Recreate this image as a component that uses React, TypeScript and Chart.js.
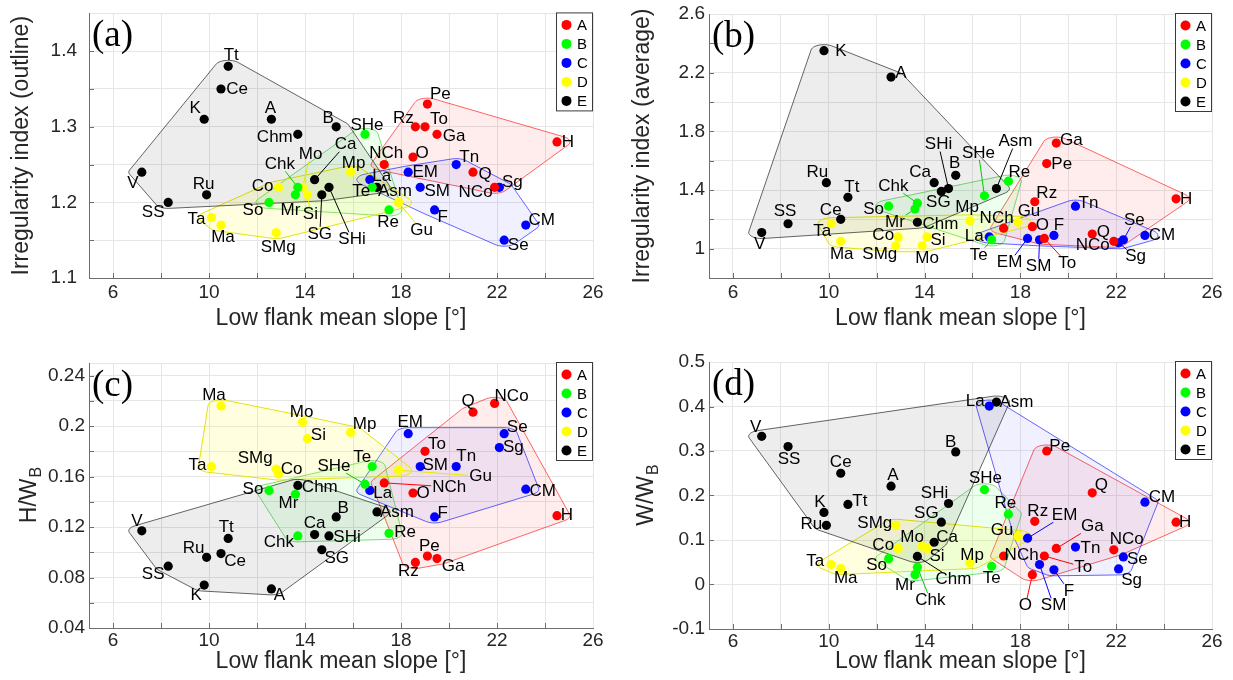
import React, { useEffect, useRef } from 'react';
import { Chart, registerables } from 'chart.js';

Chart.register(...registerables);

const FONT = '"Liberation Sans", Arial, Helvetica, sans-serif';
const SERIF = '"Liberation Serif", "Times New Roman", serif';
const TEXT = '#262626';
const AXIS = '#6e6e6e';
const GRID = '#e6e6e6';

// ---------------- data ----------------
const volcano = ['Pe', 'Rz', 'To', 'Ga', 'H', 'O', 'NCh', 'Q', 'NCo',
  'SHe', 'Chk', 'So', 'Mr', 'Te', 'Re',
  'La', 'EM', 'SM', 'Tn', 'Sg', 'F', 'CM', 'Se',
  'Co', 'Mo', 'Mp', 'Si', 'Ta', 'Ma', 'SMg', 'Gu',
  'Tt', 'Ce', 'K', 'A', 'Chm', 'B', 'V', 'Ru', 'SS', 'Ca', 'SG', 'SHi', 'Asm'];
const group = ['A', 'A', 'A', 'A', 'A', 'A', 'A', 'A', 'A',
  'B', 'B', 'B', 'B', 'B', 'B',
  'C', 'C', 'C', 'C', 'C', 'C', 'C', 'C',
  'D', 'D', 'D', 'D', 'D', 'D', 'D', 'D',
  'E', 'E', 'E', 'E', 'E', 'E', 'E', 'E', 'E', 'E', 'E', 'E', 'E'];
const slope = [19.1, 18.6, 19.0, 19.5, 24.5, 18.5, 17.3, 21.0, 21.9,
  16.5, 13.7, 12.5, 13.6, 16.8, 17.5,
  16.7, 18.3, 18.8, 20.3, 22.1, 19.4, 23.2, 22.3,
  12.9, 13.9, 15.9, 14.1, 10.1, 10.5, 12.8, 17.9,
  10.8, 10.5, 9.8, 12.6, 13.7, 15.3, 7.2, 9.9, 8.3, 14.4, 14.7, 15.0, 17.0];
const irregOutline = [1.33, 1.30, 1.30, 1.29, 1.28, 1.26, 1.25, 1.24, 1.22,
  1.29, 1.22, 1.20, 1.21, 1.22, 1.19,
  1.23, 1.24, 1.22, 1.25, 1.22, 1.19, 1.17, 1.15,
  1.22, 1.22, 1.24, 1.21, 1.18, 1.17, 1.16, 1.20,
  1.38, 1.35, 1.31, 1.31, 1.29, 1.30, 1.24, 1.21, 1.20, 1.23, 1.21, 1.22, 1.22];
const irregAverage = [1.58, 1.32, 1.07, 1.72, 1.34, 1.15, 1.14, 1.10, 1.05,
  1.36, 1.31, 1.29, 1.27, 1.06, 1.46,
  1.08, 1.07, 1.06, 1.29, 1.04, 1.09, 1.09, 1.06,
  1.08, 1.02, 1.19, 1.08, 1.17, 1.05, 1.02, 1.18,
  1.35, 1.20, 2.35, 2.17, 1.18, 1.50, 1.11, 1.45, 1.17, 1.45, 1.39, 1.41, 1.41];
const heightRatio = [0.097, 0.092, 0.180, 0.095, 0.129, 0.147, 0.155, 0.211, 0.218,
  0.154, 0.113, 0.149, 0.146, 0.168, 0.115,
  0.149, 0.194, 0.168, 0.168, 0.183, 0.128, 0.150, 0.194,
  0.162, 0.203, 0.195, 0.190, 0.168, 0.216, 0.166, 0.165,
  0.111, 0.099, 0.074, 0.071, 0.153, 0.128, 0.117, 0.096, 0.089, 0.114, 0.102, 0.113, 0.132];
const widthRatio = [0.300, 0.142, 0.064, 0.081, 0.140, 0.022, 0.064, 0.206, 0.078,
  0.213, 0.039, 0.058, 0.022, 0.041, 0.158,
  0.401, 0.104, 0.045, 0.084, 0.035, 0.033, 0.185, 0.062,
  0.081, 0.086, 0.049, 0.081, 0.045, 0.036, 0.133, 0.108,
  0.180, 0.250, 0.162, 0.221, 0.063, 0.298, 0.333, 0.133, 0.310, 0.095, 0.140, 0.182, 0.410];

const groupNames = ['A', 'B', 'C', 'D', 'E'];
const groupColors = ['#ff0000', '#00ff00', '#0000ff', '#ffff00', '#000000'];
const hullFill = ['rgba(255,0,0,0.07)', 'rgba(0,255,0,0.07)', 'rgba(0,0,255,0.06)', 'rgba(255,255,0,0.12)', 'rgba(0,0,0,0.07)'];
const hullStroke = ['rgba(255,0,0,0.6)', 'rgba(0,190,0,0.5)', 'rgba(0,0,255,0.6)', 'rgba(225,225,0,0.95)', 'rgba(0,0,0,0.6)'];
const leaderColor = ['#ff0000', '#00c800', '#0000ff', '#e8e800', '#000000'];

// axis ticks
const slopeGrid = [6, 8, 10, 12, 14, 16, 18, 20, 22, 24, 26];
const slopeLabels = [6, 10, 14, 18, 22, 26];
const outlineGrid = [1.1, 1.15, 1.2, 1.25, 1.3, 1.35, 1.4, 1.45];
const outlineLabels = [1.1, 1.2, 1.3, 1.4];
const averageGrid = [0.8, 1.0, 1.2, 1.4, 1.6, 1.8, 2.0, 2.2, 2.4, 2.6];
const averageLabels = [1.0, 1.4, 1.8, 2.2, 2.6];
const hwGrid = [0.04, 0.06, 0.08, 0.1, 0.12, 0.14, 0.16, 0.18, 0.2, 0.22, 0.24, 0.25];
const hwLabels = [0.04, 0.08, 0.12, 0.16, 0.2, 0.24];
const wwGrid = [-0.1, 0, 0.1, 0.2, 0.3, 0.4, 0.5];
const wwLabels = [-0.1, 0, 0.1, 0.2, 0.3, 0.4, 0.5];

// label placement (pixel offset of label centre from its point, 1 = leader line)
type Place = Record<string, number[]>;
const placeA: Place = {
  Pe: [13, -10], Rz: [-12, -8], To: [14, -7], Ga: [17, 2], H: [11, 0], O: [9, -4], NCh: [2, -11], Q: [12, 2], NCo: [-19, 5],
  SHe: [2, -9], Chk: [-18, -23, 1], So: [-16, 8], Mr: [-5, 15], Te: [-11, 4], Re: [-1, 12],
  La: [12, -3], EM: [17, 0], SM: [17, 4], Tn: [13, -7], Sg: [13, -5], F: [8, 7], CM: [16, -5], Se: [14, 5],
  Co: [-16, -1], Mo: [8, -33, 1], Mp: [3, -9], Si: [3, 19, 1], Ta: [-15, 2], Ma: [2, 12], SMg: [2, 15], Gu: [23, 28, 1],
  Tt: [3, -11], Ce: [16, 0], K: [-9, -11], A: [-1, -11], Chm: [-23, 3], B: [-8, -8], V: [-9, 11], Ru: [-3, -11],
  SS: [-15, 10], Ca: [31, -35, 1], SG: [-2, 39, 1], SHi: [23, 52, 1], Asm: [18, 4],
};
const placeB: Place = {
  K: [17, 1], A: [10, -4], Ru: [-9, -10], Tt: [4, -10], Ce: [-10, -9], SS: [-3, -12], V: [-2, 12], Ta: [-9, 8], Ma: [1, 13],
  So: [-15, 3], Chk: [-24, -17, 1], Mr: [-20, 13, 1], Ca: [-14, -10], SG: [-3, 11], SHi: [-10, -44, 1], B: [-1, -12],
  Chm: [23, 2], Co: [-15, -2], SMg: [-16, 9], Si: [11, 3], Mo: [5, 13],
  SHe: [-6, -43, 1], Asm: [19, -47, 1], Re: [11, -9], Ga: [15, -3], Pe: [15, 1], H: [10, 1], Rz: [12, -8], Tn: [13, -3],
  Mp: [-3, -13], NCh: [-7, -10], Gu: [11, -11], O: [10, -1], F: [5, -10], La: [-15, -1], Te: [-13, 15, 1],
  EM: [-18, 24, 1], SM: [-1, 26, 1], To: [23, 25, 1], Q: [11, -2], NCo: [-21, 4], Se: [11, -20, 1], Sg: [17, 14, 1], CM: [17, 0],
};
const placeC: Place = {
  Ma: [-7, -11], Mo: [-1, -10], Si: [11, -3], Mp: [14, -8], Ta: [-14, -1], SMg: [-21, -11], Co: [13, -5], Chm: [22, 2],
  So: [-16, -1], Mr: [-7, 9], B: [7, -9], V: [-5, -10], Tt: [-2, -11], Chk: [-19, 6], Ca: [0, -11], SHi: [18, 1],
  Ru: [-13, -9], Ce: [14, 8], SG: [15, 9], SS: [-15, 8], K: [-8, 10], A: [8, 6],
  Q: [-5, -11], NCo: [17, -7], EM: [2, -11], Se: [13, -6], Sg: [14, 0], To: [12, -7], SM: [15, -1], Tn: [10, -10],
  Te: [-10, -9], Gu: [82, 6, 1], SHe: [-31, -18, 1], NCh: [65, 4, 1], La: [13, 3], O: [10, 0], CM: [17, 2], Asm: [20, 0],
  F: [8, -4], H: [10, 0], Re: [16, -1], Pe: [2, -10], Ga: [16, 8], Rz: [-7, 9],
};
const placeD: Place = {
  V: [-6, -9], SS: [1, 13], Ce: [0, -11], A: [2, -11], K: [-4, -10], Tt: [12, -3], Ru: [-15, -1], SMg: [-21, -2],
  Mo: [-10, -9], Si: [10, 8], Co: [-15, -3], Ca: [13, -5], Chm: [36, 23, 1], So: [-12, 7], Chk: [13, 33, 1], Mr: [-10, 11],
  Ta: [-16, -3], Ma: [5, 10], SG: [-15, -9], SHi: [-14, -10], B: [-5, -10],
  La: [-14, -5], Asm: [20, 0], Pe: [13, -5], SHe: [1, -11], Q: [9, -8], CM: [17, -5], H: [9, 0], Re: [-3, -11], Rz: [3, -10],
  EM: [37, -23, 1], Ga: [36, -22, 1], Gu: [-16, -6], Tn: [15, 1], NCo: [13, -10], Se: [14, 2], NCh: [18, -1],
  To: [39, 11, 1], Mp: [2, -7], Te: [0, 12], SM: [14, 41, 1], F: [15, 21, 1], Sg: [13, 11], O: [-7, 31, 1],
};

type Cfg = {
  tag: string; values: number[]; yMin: number; yMax: number; yGrid: number[]; yLabels: number[];
  yTitle: string; ySub: string; place: Place;
  x: number; y: number; w: number; h: number;
  pad: { left: number; top: number; right: number; bottom: number };
  yWidth: number; xHeight: number; yTickPad: number; xTickPad: number; yTitlePad: number; xTitlePad: number;
};

const panels: Cfg[] = [
  { tag: '(a)', values: irregOutline, yMin: 1.1, yMax: 1.45, yGrid: outlineGrid, yLabels: outlineLabels,
    yTitle: 'Irregularity index (outline)', ySub: '', place: placeA,
    x: 0, y: -10, w: 616, h: 350, pad: { left: 0, top: 22, right: 23, bottom: 0 },
    yWidth: 89, xHeight: 62, yTickPad: 12, xTickPad: 3, yTitlePad: 8, xTitlePad: 8 },
  { tag: '(b)', values: irregAverage, yMin: 0.8, yMax: 2.6, yGrid: averageGrid, yLabels: averageLabels,
    yTitle: 'Irregularity index (average)', ySub: '', place: placeB,
    x: 617, y: -10, w: 616, h: 350, pad: { left: 0, top: 24, right: 21, bottom: 0 },
    yWidth: 92, xHeight: 62, yTickPad: 4, xTickPad: 3, yTitlePad: 12, xTitlePad: 8 },
  { tag: '(c)', values: heightRatio, yMin: 0.04, yMax: 0.25, yGrid: hwGrid, yLabels: hwLabels,
    yTitle: 'H/W', ySub: 'B', place: placeC,
    x: 0, y: 330, w: 616, h: 350, pad: { left: 0, top: 33, right: 23, bottom: 0 },
    yWidth: 89, xHeight: 52, yTickPad: 4, xTickPad: 1, yTitlePad: 16, xTitlePad: 5 },
  { tag: '(d)', values: widthRatio, yMin: -0.1, yMax: 0.5, yGrid: wwGrid, yLabels: wwLabels,
    yTitle: 'W/W', ySub: 'B', place: placeD,
    x: 617, y: 330, w: 616, h: 350, pad: { left: 0, top: 32, right: 21, bottom: 0 },
    yWidth: 92, xHeight: 51, yTickPad: 4, xTickPad: 1, yTitlePad: 16, xTitlePad: 5 },
];

// ---------------- geometry helpers ----------------
type P = { x: number; y: number };
function convexHull(pts: P[]): P[] {
  const p = pts.slice().sort((a, b) => a.x - b.x || a.y - b.y);
  const cross = (o: P, a: P, b: P) => (a.x - o.x) * (b.y - o.y) - (a.y - o.y) * (b.x - o.x);
  const lower: P[] = [];
  for (const q of p) {
    while (lower.length >= 2 && cross(lower[lower.length - 2], lower[lower.length - 1], q) <= 0) lower.pop();
    lower.push(q);
  }
  const upper: P[] = [];
  for (let i = p.length - 1; i >= 0; i--) {
    const q = p[i];
    while (upper.length >= 2 && cross(upper[upper.length - 2], upper[upper.length - 1], q) <= 0) upper.pop();
    upper.push(q);
  }
  upper.pop();
  lower.pop();
  return lower.concat(upper);
}

const near = (list: number[], v: number) => list.some((t) => Math.abs(t - v) < 1e-9);

function makePlugin(cfg: Cfg) {
  const labelFont = `17px ${FONT}`;
  return {
    id: 'deco' + cfg.tag,
    beforeDatasetsDraw(chart: any) {
      const ctx = chart.ctx as CanvasRenderingContext2D;
      // padded convex hulls
      chart.data.datasets.forEach((_: any, gi: number) => {
        const meta = chart.getDatasetMeta(gi);
        const samples: P[] = [];
        meta.data.forEach((e: any) => {
          for (let k = 0; k < 40; k++) {
            const a = (k / 40) * Math.PI * 2;
            samples.push({ x: e.x + 13 * Math.cos(a), y: e.y + 6 * Math.sin(a) });
          }
        });
        const h = convexHull(samples);
        ctx.save();
        ctx.beginPath();
        h.forEach((q, i) => (i ? ctx.lineTo(q.x, q.y) : ctx.moveTo(q.x, q.y)));
        ctx.closePath();
        ctx.fillStyle = hullFill[gi];
        ctx.fill();
        ctx.strokeStyle = hullStroke[gi];
        ctx.lineWidth = 1;
        ctx.stroke();
        ctx.restore();
      });
      // leader lines
      ctx.save();
      ctx.font = labelFont;
      chart.data.datasets.forEach((ds: any, gi: number) => {
        const meta = chart.getDatasetMeta(gi);
        meta.data.forEach((e: any, j: number) => {
          const name = ds.data[j].name;
          const pl = cfg.place[name];
          if (!pl || !pl[2]) return;
          const lx = e.x + pl[0];
          const ly = e.y + pl[1];
          const hw = ctx.measureText(name).width / 2 + 1;
          const hh = 7;
          const dx = e.x - lx;
          const dy = e.y - ly;
          const t = Math.min(dx !== 0 ? hw / Math.abs(dx) : 1e9, dy !== 0 ? hh / Math.abs(dy) : 1e9);
          ctx.beginPath();
          ctx.moveTo(e.x, e.y);
          ctx.lineTo(lx + dx * t, ly + dy * t);
          ctx.strokeStyle = leaderColor[gi];
          ctx.lineWidth = 1;
          ctx.stroke();
        });
      });
      ctx.restore();
    },
    afterDatasetsDraw(chart: any) {
      const ctx = chart.ctx as CanvasRenderingContext2D;
      ctx.save();
      ctx.font = labelFont;
      ctx.fillStyle = '#000';
      ctx.textAlign = 'center';
      ctx.textBaseline = 'middle';
      chart.data.datasets.forEach((ds: any, gi: number) => {
        const meta = chart.getDatasetMeta(gi);
        meta.data.forEach((e: any, j: number) => {
          const name = ds.data[j].name;
          const pl = cfg.place[name] || [10, 0];
          ctx.fillText(name, e.x + pl[0], e.y + pl[1]);
        });
      });
      ctx.restore();
    },
    afterDraw(chart: any) {
      const ctx = chart.ctx as CanvasRenderingContext2D;
      const { left, right, top, bottom } = chart.chartArea;
      const xs = chart.scales.x;
      const ys = chart.scales.y;
      ctx.save();
      // inward tick marks
      ctx.strokeStyle = AXIS;
      ctx.lineWidth = 1;
      ctx.beginPath();
      slopeGrid.forEach((v) => {
        const X = Math.round(xs.getPixelForValue(v)) + 0.5;
        if (X > right - 1) return;
        ctx.moveTo(X, bottom);
        ctx.lineTo(X, bottom - 5);
      });
      cfg.yGrid.forEach((v) => {
        const Y = Math.round(ys.getPixelForValue(v)) + 0.5;
        if (Y < top + 1) return;
        ctx.moveTo(left, Y);
        ctx.lineTo(left + 5, Y);
      });
      ctx.stroke();

      // legend box
      const bw = 37;
      const bh = 99;
      const bx = right - bw;
      const by = top - 1;
      ctx.fillStyle = '#ffffff';
      ctx.fillRect(bx, by, bw, bh);
      ctx.strokeStyle = '#3a3a3a';
      ctx.strokeRect(bx + 0.5, by + 0.5, bw - 1, bh - 1);
      ctx.font = `15px ${FONT}`;
      ctx.textAlign = 'left';
      ctx.textBaseline = 'middle';
      groupNames.forEach((g, i) => {
        const cy = by + 12.5 + i * 19;
        ctx.beginPath();
        ctx.arc(bx + 10.5, cy, 5, 0, Math.PI * 2);
        ctx.fillStyle = groupColors[i];
        ctx.fill();
        ctx.fillStyle = '#000';
        ctx.fillText(g, bx + 21, cy + 1);
      });

      // panel tag
      ctx.font = `37px ${SERIF}`;
      ctx.fillStyle = '#000';
      ctx.textAlign = 'left';
      ctx.textBaseline = 'alphabetic';
      ctx.fillText(cfg.tag, left + 3, top + 33);

      // y title with subscript
      if (cfg.ySub) {
        const cy = (top + bottom) / 2;
        ctx.translate(cfg.yTitlePad + 14, cy);
        ctx.rotate(-Math.PI / 2);
        ctx.font = `23px ${FONT}`;
        const wm = ctx.measureText(cfg.yTitle).width;
        ctx.font = `16px ${FONT}`;
        const wsub = ctx.measureText(cfg.ySub).width;
        const start = -(wm + wsub) / 2;
        ctx.fillStyle = TEXT;
        ctx.textBaseline = 'middle';
        ctx.font = `23px ${FONT}`;
        ctx.fillText(cfg.yTitle, start, 0);
        ctx.font = `16px ${FONT}`;
        ctx.fillText(cfg.ySub, start + wm + 1, 7);
      }
      ctx.restore();
    },
  };
}

function Panel({ cfg }: { cfg: Cfg }) {
  const ref = useRef<HTMLCanvasElement>(null);
  useEffect(() => {
    const canvas = ref.current;
    if (!canvas) return;
    const datasets = groupNames.map((g, gi) => {
      const idx = volcano.map((_, i) => i).filter((i) => group[i] === g);
      return {
        label: g,
        data: idx.map((i) => ({ x: slope[i], y: cfg.values[i], name: volcano[i] })),
        backgroundColor: groupColors[gi],
        borderColor: groupColors[gi],
        borderWidth: 0,
        pointRadius: 4.6,
        pointHoverRadius: 4.6,
      };
    });
    const chart = new Chart(canvas, {
      type: 'scatter',
      data: { datasets } as any,
      options: {
        animation: false,
        responsive: false,
        events: [],
        layout: { padding: cfg.pad },
        plugins: { legend: { display: false }, tooltip: { enabled: false } },
        scales: {
          x: {
            type: 'linear',
            min: 5,
            max: 26,
            afterBuildTicks: (s: any) => { s.ticks = slopeGrid.map((v) => ({ value: v })); },
            afterFit: (s: any) => { s.height = cfg.xHeight; },
            ticks: {
              autoSkip: false, maxRotation: 0, minRotation: 0,
              padding: cfg.xTickPad, color: TEXT, font: { family: FONT, size: 19 },
              callback: (v: any) => (near(slopeLabels, Number(v)) ? String(v) : ''),
            },
            grid: { color: GRID, lineWidth: 1, drawTicks: false },
            border: { display: true, color: AXIS, width: 1 },
            title: {
              display: true, text: 'Low flank mean slope [°]', color: TEXT,
              font: { family: FONT, size: 23 }, padding: { top: 0, bottom: cfg.xTitlePad },
            },
          },
          y: {
            type: 'linear',
            min: cfg.yMin,
            max: cfg.yMax,
            afterBuildTicks: (s: any) => { s.ticks = cfg.yGrid.map((v) => ({ value: v })); },
            afterFit: (s: any) => { s.width = cfg.yWidth; },
            ticks: {
              autoSkip: false,
              padding: cfg.yTickPad, color: TEXT, font: { family: FONT, size: 19 },
              callback: (v: any) => (near(cfg.yLabels, Number(v)) ? String(Number(v)) : ''),
            },
            grid: { color: GRID, lineWidth: 1, drawTicks: false },
            border: { display: true, color: AXIS, width: 1 },
            title: {
              display: !cfg.ySub, text: cfg.yTitle, color: TEXT,
              font: { family: FONT, size: 23 }, padding: { top: cfg.yTitlePad, bottom: 0 },
            },
          },
        },
      } as any,
      plugins: [makePlugin(cfg)],
    });
    return () => chart.destroy();
  }, [cfg]);
  return (
    <canvas
      ref={ref}
      width={cfg.w}
      height={cfg.h}
      style={{ position: 'absolute', left: cfg.x, top: cfg.y, width: cfg.w, height: cfg.h, display: 'block' }}
    />
  );
}

export default function App() {
  return (
    <div style={{ position: 'absolute', left: 0, top: 0, width: 1233, height: 680, overflow: 'hidden', background: '#ffffff' }}>
      {panels.map((p) => (
        <Panel key={p.tag} cfg={p} />
      ))}
    </div>
  );
}
